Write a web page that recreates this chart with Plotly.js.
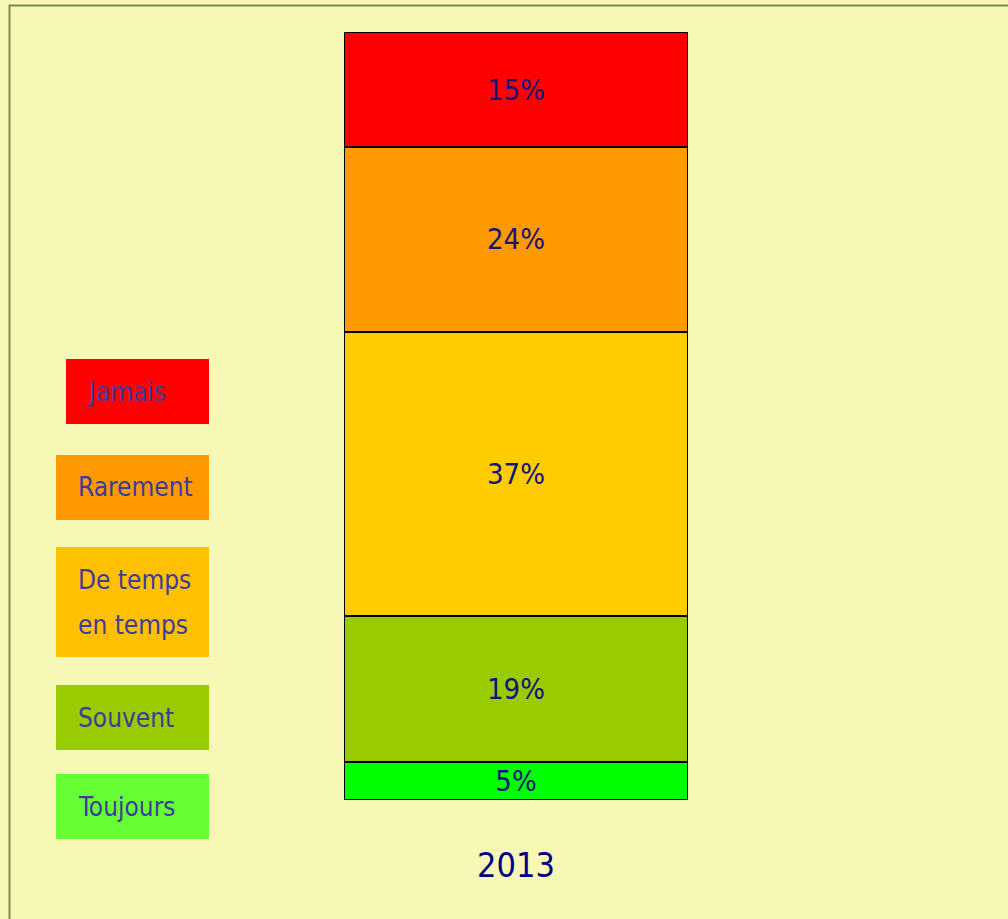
<!DOCTYPE html>
<html>
<head>
<meta charset="utf-8">
<script src="https://cdn.plot.ly/plotly-3.0.1.min.js"></script>
<style>
html,body{margin:0;padding:0;background:#f7f8b6;}
#chart{width:1008px;height:919px;}
</style>
</head>
<body>
<div id="chart"></div>
<script>
// Data
const years = ['2013'];
const categories = ['Toujours', 'Souvent', 'De temps en temps', 'Rarement', 'Jamais'];
const legendLabels = [['Toujours'], ['Souvent'], ['De temps', 'en temps'], ['Rarement'], ['Jamais']];
const toujours = [5];
const souvent = [19];
const deTempsEnTemps = [37];
const rarement = [24];
const jamais = [15];
const seriesValues = [toujours, souvent, deTempsEnTemps, rarement, jamais];

// Styles
const barColors = ['#00ff00', '#99cc00', '#ffcc00', '#ff9900', '#ff0000'];
const legendColors = ['#66ff33', '#99cc00', '#ffc000', '#ff9900', '#ff0000'];
const FONT = '"DejaVu Sans Condensed", "Liberation Sans Narrow", sans-serif';

const W = 1008, H = 919;
const M = {l: 344, r: 320, t: 32, b: 119};
const pw = W - M.l - M.r, ph = H - M.t - M.b;
const px = x => (x - M.l) / pw;
const py = y => (H - M.b - y) / ph;

const traces = categories.map((name, i) => ({
  type: 'bar',
  name: name,
  x: years,
  y: seriesValues[i],
  text: seriesValues[i].map(v => v + '%'),
  textposition: 'inside',
  insidetextanchor: 'middle',
  constraintext: 'none',
  textfont: {family: FONT, size: 29, color: '#14147a'},
  marker: {color: barColors[i], line: {color: '#000000', width: 2}},
  hoverinfo: 'name+y',
  showlegend: false
}));

// Legend boxes (pixel geometry)
const boxes = [
  {y0: 774, y1: 839, x0: 56, tx: 76},
  {y0: 685, y1: 750, x0: 56, tx: 76},
  {y0: 547, y1: 657, x0: 56, tx: 76},
  {y0: 455, y1: 520, x0: 56, tx: 76},
  {y0: 359, y1: 424, x0: 66, tx: 85}
];
const LINE_GAP = 45;
const shapes = [];
const annotations = [];
boxes.forEach((b, i) => {
  shapes.push({
    type: 'rect', xref: 'paper', yref: 'paper', layer: 'below',
    x0: px(b.x0), x1: px(209), y0: py(b.y1), y1: py(b.y0),
    fillcolor: legendColors[i], line: {width: 0}
  });
  const lines = legendLabels[i];
  const mid = (b.y0 + b.y1) / 2;
  lines.forEach((ln, k) => {
    const yc = mid + (k - (lines.length - 1) / 2) * LINE_GAP;
    annotations.push({
      xref: 'paper', yref: 'paper', x: px(b.tx), y: py(yc),
      xanchor: 'left', yanchor: 'middle', align: 'left', showarrow: false,
      text: ln,
      font: {family: FONT, size: 26, color: '#3c3c9c'}
    });
  });
});
// outer frame
shapes.push({
  type: 'rect', xref: 'paper', yref: 'paper', layer: 'below',
  x0: px(9.5), x1: px(1030), y0: py(940), y1: py(5.5),
  line: {color: '#7a8c4a', width: 2}, fillcolor: 'rgba(0,0,0,0)'
});

const layout = {
  width: W, height: H,
  margin: M,
  paper_bgcolor: '#f7f8b6',
  plot_bgcolor: '#f7f8b6',
  barmode: 'stack',
  bargap: 0,
  showlegend: false,
  xaxis: {
    type: 'category', showgrid: false, zeroline: false, showline: false,
    ticks: '', ticklabelstandoff: 42,
    tickfont: {family: FONT, size: 34, color: '#000080'},
    fixedrange: true
  },
  yaxis: {
    range: [0, 100], showgrid: false, zeroline: false, showline: false,
    showticklabels: false, ticks: '', fixedrange: true
  },
  shapes: shapes,
  annotations: annotations
};

Plotly.newPlot('chart', traces, layout, {displayModeBar: false, staticPlot: true});
</script>
</body>
</html>
